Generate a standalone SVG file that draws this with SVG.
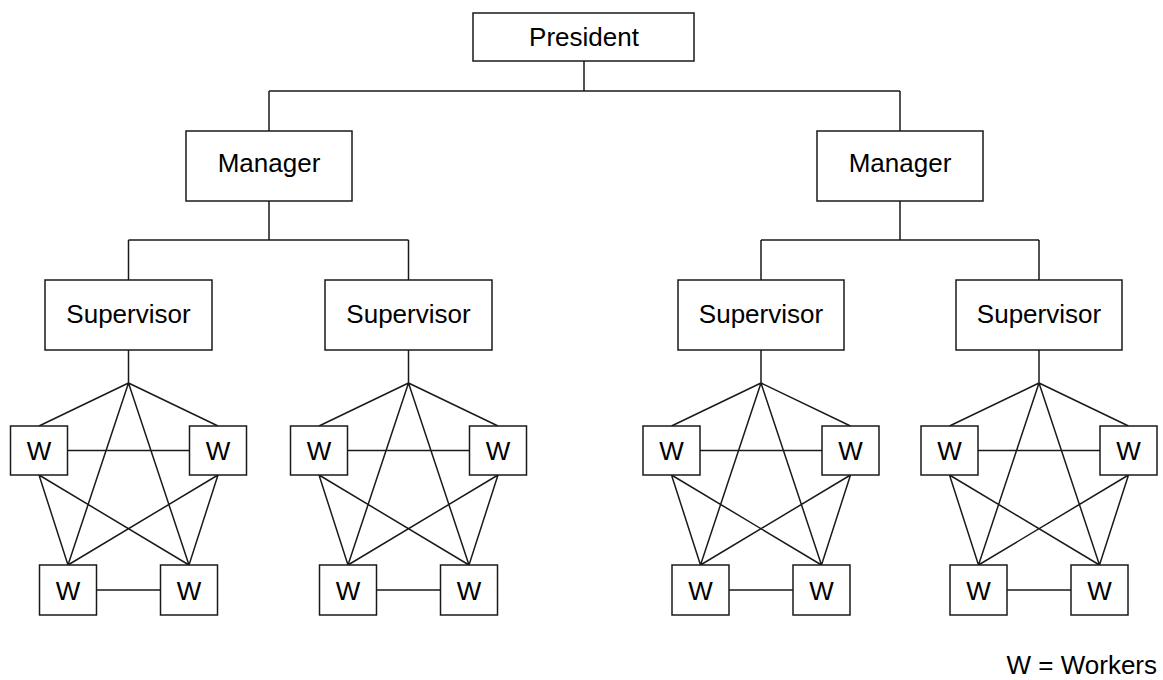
<svg xmlns="http://www.w3.org/2000/svg" width="1163" height="680" viewBox="0 0 1163 680">
  <style>
    .box { fill: #ffffff; stroke: #1a1a1a; stroke-width: 1.5; }
    .link { fill: none; stroke: #1a1a1a; stroke-width: 1.5; }
    .label { font-family: "Liberation Sans", Arial, Helvetica, sans-serif; font-size: 26px; fill: #000000; text-anchor: middle; }
    .legend { font-family: "Liberation Sans", Arial, Helvetica, sans-serif; font-size: 26px; fill: #000000; text-anchor: end; }
  </style>
  <defs>
    <!-- worker clique, drawn around supervisor axis x=0 -->
    <g id="worker-links">
      <path class="link" d="M0,350 V383
        M0,383 L-89.5,426 M0,383 L89.5,426 M0,383 L-60.5,565 M0,383 L60.5,565
        M-61,450.5 H61
        M-89.5,475 L-60.5,565 M-89.5,475 L60.5,565
        M89.5,475 L-60.5,565 M89.5,475 L60.5,565
        M-32,590 H32"/>
    </g>
    <g id="workers">
      <g class="w"><rect class="box" x="-118" y="426" width="57" height="49"/><text class="label" x="-89.5" y="460">W</text></g>
      <g class="w"><rect class="box" x="61" y="426" width="57" height="49"/><text class="label" x="89.5" y="460">W</text></g>
      <g class="w"><rect class="box" x="-89" y="565" width="57" height="50"/><text class="label" x="-60.5" y="600">W</text></g>
      <g class="w"><rect class="box" x="32" y="565" width="57" height="50"/><text class="label" x="60.5" y="600">W</text></g>
    </g>
  </defs>

  <!-- connectors -->
  <g id="connectors">
    <path class="link" d="M584,61 V91 M269,91 H900 M269,91 V131 M900,91 V131"/>
    <path class="link" d="M269,201 V240 M128.5,240 H408.5 M128.5,240 V280 M408.5,240 V280"/>
    <path class="link" d="M900,201 V240 M761,240 H1039 M761,240 V280 M1039,240 V280"/>
    <use href="#worker-links" x="128.5"/>
    <use href="#worker-links" x="408.5"/>
    <use href="#worker-links" x="761"/>
    <use href="#worker-links" x="1039"/>
  </g>

  <!-- nodes -->
  <g id="president">
    <rect class="box" x="473" y="13" width="221" height="48"/>
    <text class="label" x="584" y="46">President</text>
  </g>
  <g id="manager-left">
    <rect class="box" x="186" y="131" width="166" height="70"/>
    <text class="label" x="269" y="172">Manager</text>
  </g>
  <g id="manager-right">
    <rect class="box" x="817" y="131" width="166" height="70"/>
    <text class="label" x="900" y="172">Manager</text>
  </g>
  <g id="supervisor-1">
    <rect class="box" x="45" y="280" width="167" height="70"/>
    <text class="label" x="128.5" y="323">Supervisor</text>
  </g>
  <g id="supervisor-2">
    <rect class="box" x="325" y="280" width="167" height="70"/>
    <text class="label" x="408.5" y="323">Supervisor</text>
  </g>
  <g id="supervisor-3">
    <rect class="box" x="678" y="280" width="166" height="70"/>
    <text class="label" x="761" y="323">Supervisor</text>
  </g>
  <g id="supervisor-4">
    <rect class="box" x="956" y="280" width="166" height="70"/>
    <text class="label" x="1039" y="323">Supervisor</text>
  </g>
  <g id="workers-1"><use href="#workers" x="128.5"/></g>
  <g id="workers-2"><use href="#workers" x="408.5"/></g>
  <g id="workers-3"><use href="#workers" x="761"/></g>
  <g id="workers-4"><use href="#workers" x="1039"/></g>

  <text class="legend" x="1157" y="674">W = Workers</text>
</svg>
